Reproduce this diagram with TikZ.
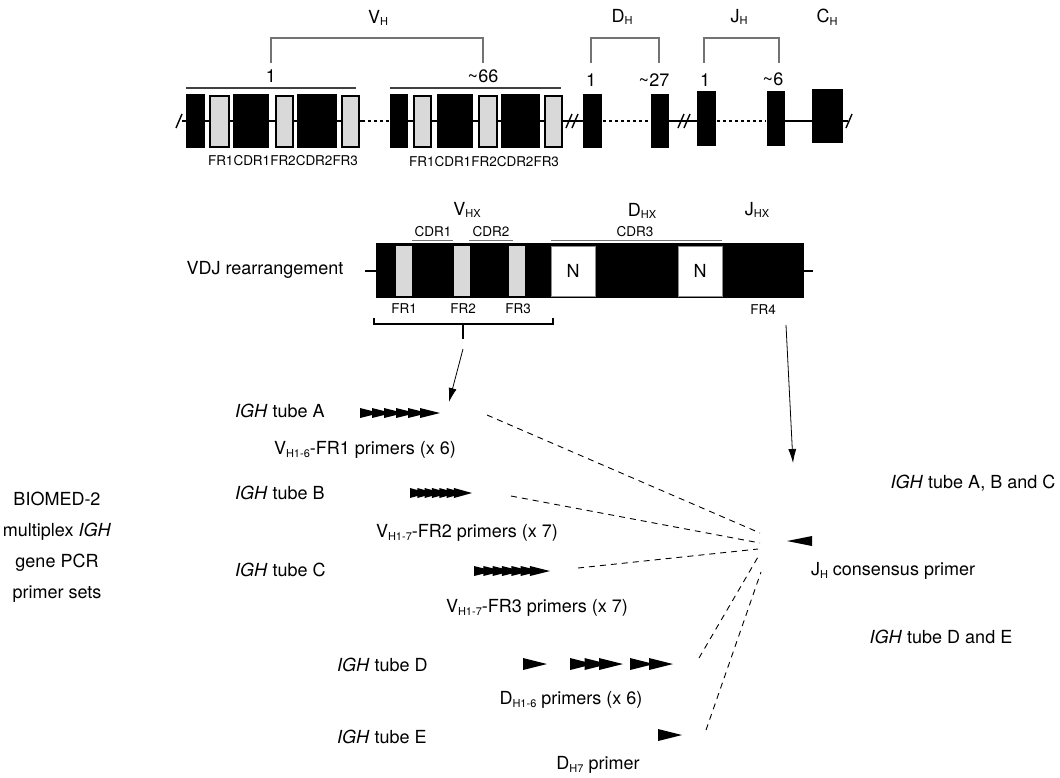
\documentclass[tikz,border=0pt]{standalone}
\usepackage{fontspec}
\setmainfont{TeX Gyre Heros}
\usepackage{tikz}
\usetikzlibrary{arrows,arrows.meta,positioning}
\newcommand{\sbs}[2]{#1\raisebox{-0.3ex}{\fontsize{11}{11}\selectfont #2}}

\begin{document}
\begin{tikzpicture}[x=1pt,y=-1pt]
\useasboundingbox (0,0) rectangle (1060,777);

\newcommand{\bb}{121}
\newcommand{\primerset}[7]{% name, x, y, n, step, length, half height
  \foreach \i in {1,...,#4}
    \fill (#2+\i*#5-#5,#3-#7) -- ++(#6,#7) -- ++(-#6,#7) -- cycle;
  \coordinate (#1) at (#2+#4*#5-#5+#6,#3);
}
\tikzstyle{every node}=[inner sep=0pt, font=\fontsize{18}{21}\selectfont]
\tikzstyle{lbl}=[font=\fontsize{13.5}{16}\selectfont]
\tikzstyle{frbox}=[fill=black!15, draw=black, line width=1.2pt]
\tikzstyle{nbox}=[fill=white, draw=black!45, line width=0.6pt,
  minimum width=44pt, minimum height=50pt]
\tikzstyle{bar}=[draw=black!55, line width=1.3pt]
\tikzstyle{brk}=[line width=1.4pt]
\tikzstyle{prim}=[dash pattern=on 6pt off 5pt, line width=0.9pt]
\tikzstyle{arr}=[-{Latex[length=14pt,width=8pt]}, line width=0.8pt]

% germline locus
\draw[line width=2pt] (182,\bb) -- (362,\bb);
\draw[line width=2.5pt, dash pattern=on 3pt off 3pt] (362,\bb) -- (390,\bb);
\draw[line width=2pt] (390,\bb) -- (602,\bb);
\draw[line width=2.5pt, dash pattern=on 3pt off 3pt] (603,\bb) -- (650,\bb);
\draw[line width=2pt] (669,\bb) -- (716,\bb);
\draw[line width=2.5pt, dash pattern=on 3pt off 3pt] (717,\bb) -- (766,\bb);
\draw[line width=2pt] (785,\bb) -- (848,\bb);
\foreach \x in {179,569,575,681,687,849}
  \draw[brk] (\x-3,\bb+7) -- (\x+3,\bb-7);

\foreach \a/\b in {186/205,233/269,297/337,390/408,437/473,501/540}
  \fill (\a,94) rectangle (\b,148);
\foreach \a/\b in {210/229,276/293,342/359,414/431,479/497,545/562}
  \filldraw[frbox] (\a,96) rectangle (\b,147);
\fill (583,94) rectangle (602,148);
\fill (651,94) rectangle (669,148);
\fill (697,91) rectangle (716,146);
\fill (767,91) rectangle (785,146);
\fill (812,89) rectangle (843,143);

\draw[line width=1.5pt, black!75] (186,88) -- (356,88);
\draw[line width=1.5pt, black!75] (390,88) -- (561,88);

\node (VH) at (378,18) {\sbs{V}{H}};
\node (DH) at (622,17) {\sbs{D}{H}};
\node (JH) at (739,17) {\sbs{J}{H}};
\node (CH) at (827,17) {\sbs{C}{H}};
\node (v1) at (271,76) {1};
\node (v66) at (483,76) {\textasciitilde 66};
\node (d1) at (591,80) {1};
\node (d27) at (654,80) {\textasciitilde 27};
\node (j1) at (705,80) {1};
\node (j6) at (773,79) {\textasciitilde 6};
\node[lbl] (seg1) at (283,161) {FR1CDR1FR2CDR2FR3};
\node[lbl] (seg66) at (484,162) {FR1CDR1FR2CDR2FR3};

\draw[bar] (271,63) |- (483,38) -- (483,63);
\draw[bar] (591,63) |- (659,38) -- (659,63);
\draw[bar] (704,63) |- (779,38) -- (779,63);

% rearranged VDJ
\node (vdj) at (265,270) {VDJ rearrangement};
\draw[line width=1.5pt] (365,271) -- (376,271);
\draw[line width=1.5pt] (804,271) -- (813,271);
\fill (376,243) rectangle (804,298);
\foreach \a in {396,454,509}
  \fill[black!15] (\a,246) rectangle (\a+16,296);
\node[nbox] (N1) at (573,271) {N};
\node[nbox] (N2) at (700,271) {N};

\node (VHX) at (467,210) {\sbs{V}{HX}};
\node (DHX) at (642,211) {\sbs{D}{HX}};
\node (JHX) at (757,210) {\sbs{J}{HX}};
\node[lbl] (cdr1) at (433,232) {CDR1};
\node[lbl] (cdr2) at (491,232) {CDR2};
\node[lbl] (cdr3) at (635,232) {CDR3};
\draw[bar, line width=1pt] (412,240) -- (453,240);
\draw[bar, line width=1pt] (469,240) -- (513,240);
\draw[bar, line width=1pt] (551,240) -- (722,240);
\node[lbl] (fr1) at (404,309) {FR1};
\node[lbl] (fr2) at (463,309) {FR2};
\node[lbl] (fr3) at (518,309) {FR3};
\node[lbl] (fr4) at (763,310) {FR4};

\draw[line width=1.8pt] (374,318) |- (553,324) -- (553,318);
\draw[line width=2.5pt] (463,324) -- (463,339);
\coordinate (vstem) at (463,349);
\coordinate (vtip) at (449,402);
\coordinate (jstem) at (786,325);
\coordinate (jtip) at (793,463);
\draw[arr] (vstem) -- (vtip);
\draw[arr] (jstem) -- (jtip);

% primer sets
\node[align=center, font=\fontsize{18}{31}\selectfont] (biomed) at (57,547)
  {BIOMED-2\\multiplex \textit{IGH}\\gene PCR\\primer sets};

\node[anchor=west] (tubeA) at (235,411) {\textit{IGH} tube A};
\node[anchor=west] (tubeB) at (235,493) {\textit{IGH} tube B};
\node[anchor=west] (tubeC) at (235,570) {\textit{IGH} tube C};
\node[anchor=west] (tubeD) at (337,665) {\textit{IGH} tube D};
\node[anchor=west] (tubeE) at (337,737) {\textit{IGH} tube E};

\primerset{primA}{360}{413}{6}{12}{20}{5}
\primerset{primB}{410}{493}{7}{7.33}{18}{5}
\primerset{primC}{474}{571}{7}{9.33}{20}{5}
\primerset{primDa}{523}{664}{1}{0}{24}{6}
\primerset{primDb}{570}{664}{3}{14.5}{24}{6}
\primerset{primDc}{630}{664}{2}{19}{24}{6}
\primerset{primE}{658}{735}{1}{0}{24}{6}
\fill (787,541) -- (812,536) -- (812,546) -- cycle;
\coordinate (primJ) at (787,541);

\node (labA) at (365,450) {\sbs{V}{H1-6}-FR1 primers (x 6)};
\node (labB) at (467,533) {\sbs{V}{H1-7}-FR2 primers (x 7)};
\node (labC) at (537,608) {\sbs{V}{H1-7}-FR3 primers (x 7)};
\node (labD) at (571,700) {\sbs{D}{H1-6} primers (x 6)};
\node (labE) at (598,765) {\sbs{D}{H7} primer};
\node (labJ) at (893,571) {\sbs{J}{H} consensus primer};
\node (abc) at (973,483) {\textit{IGH} tube A, B and C};
\node (de) at (941,637) {\textit{IGH} tube D and E};

\coordinate (sA) at (487,415);
\coordinate (sB) at (511,496);
\coordinate (sC) at (578,568);
\coordinate (sD) at (699,658);
\coordinate (sE) at (706,730);
\coordinate (eA) at (760,533);
\coordinate (eB) at (760,543);
\coordinate (eC) at (758,549);
\coordinate (eD) at (758,557);
\coordinate (eE) at (761,572);
\path[prim]
  (sA) edge (eA)
  (sB) edge (eB)
  (sC) edge (eC)
  (sD) edge (eD)
  (sE) edge (eE);

\end{tikzpicture}
\end{document}
